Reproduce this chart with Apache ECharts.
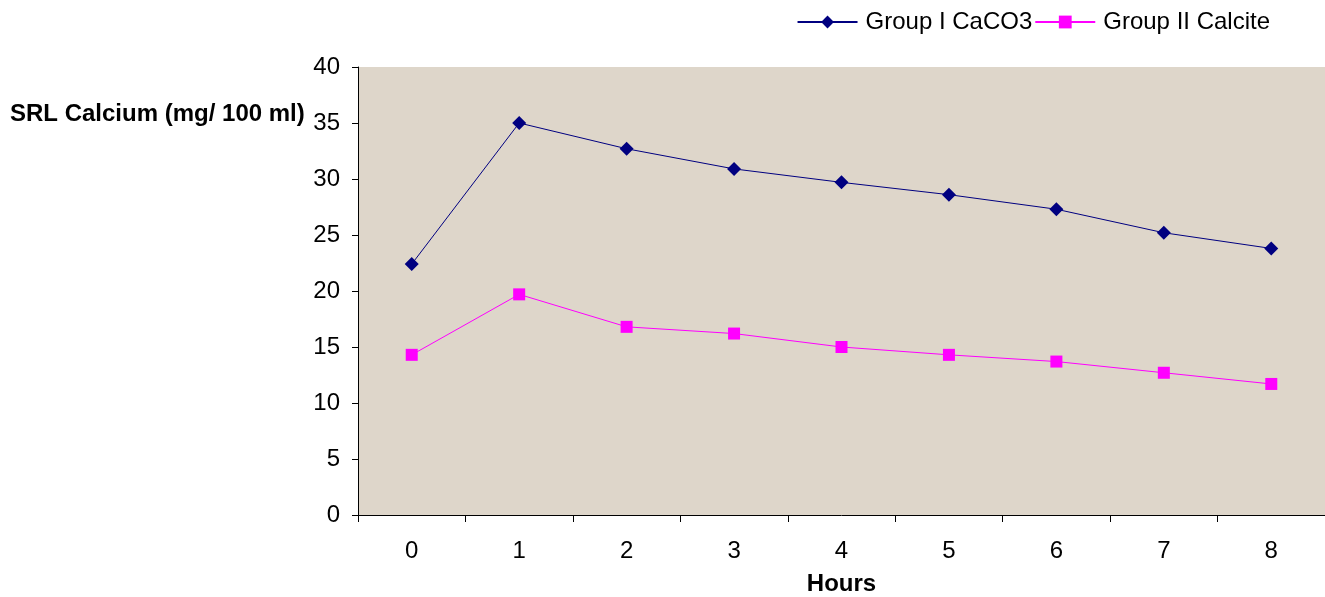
<!DOCTYPE html>
<html>
<head>
<meta charset="utf-8">
<script src="https://cdn.jsdelivr.net/npm/echarts@6/dist/echarts.min.js"></script>
<style>
  html, body { margin: 0; padding: 0; background: #fff; }
  #main { width: 1325px; height: 597px; }
</style>
</head>
<body>
<div id="main"></div>
<script>
var hours = ['0', '1', '2', '3', '4', '5', '6', '7', '8'];
var groupCaCO3 = [22.4, 35.0, 32.7, 30.9, 29.7, 28.6, 27.3, 25.2, 23.8];
var groupCalcite = [14.3, 19.7, 16.8, 16.2, 15.0, 14.3, 13.7, 12.7, 11.7];

var myChart = echarts.init(document.getElementById('main'));
var font = 'Liberation Sans, Arial, sans-serif';
var option = {
  backgroundColor: '#fff',
  textStyle: { fontFamily: font },
  title: {
    text: 'SRL Calcium (mg/ 100 ml)',
    left: 5,
    top: 97,
    textStyle: { fontSize: 24, fontWeight: 'bold', color: '#000', fontFamily: font }
  },
  legend: {
    right: 50,
    top: 5,
    itemWidth: 60,
    itemHeight: 16,
    itemGap: 2,
    textStyle: { fontSize: 24, color: '#000', fontFamily: font, padding: [0, 0, 0, 3] },
    data: ['Group I CaCO3', 'Group II Calcite']
  },
  grid: {
    left: 358,
    right: 0,
    top: 67,
    bottom: 82,
    outerBoundsMode: 'none',
    containLabel: false,
    show: true,
    backgroundColor: '#ded6ca',
    borderWidth: 0
  },
  xAxis: {
    type: 'category',
    data: hours,
    boundaryGap: true,
    name: 'Hours',
    nameLocation: 'middle',
    nameGap: 57,
    nameTextStyle: { fontSize: 24, fontWeight: 'bold', color: '#000' },
    axisLine: { show: true, lineStyle: { color: '#000', width: 1 } },
    axisTick: { show: true, length: 7, lineStyle: { color: '#000' } },
    axisLabel: { fontSize: 24, color: '#000', margin: 24 },
    splitLine: { show: false }
  },
  yAxis: {
    type: 'value',
    min: 0,
    max: 40,
    interval: 5,
    axisLine: { show: true, lineStyle: { color: '#000', width: 1 } },
    axisTick: { show: true, length: 6, lineStyle: { color: '#000' } },
    axisLabel: { fontSize: 24, color: '#000', margin: 18 },
    splitLine: { show: false }
  },
  series: [
    {
      name: 'Group I CaCO3',
      type: 'line',
      data: groupCaCO3,
      symbol: 'diamond',
      symbolSize: 14,
      lineStyle: { color: '#000080', width: 1 },
      itemStyle: { color: '#000080' }
    },
    {
      name: 'Group II Calcite',
      type: 'line',
      data: groupCalcite,
      symbol: 'rect',
      symbolSize: 12,
      lineStyle: { color: '#ff00ff', width: 1 },
      itemStyle: { color: '#ff00ff' }
    }
  ]
};
myChart.setOption(option);
</script>
</body>
</html>
